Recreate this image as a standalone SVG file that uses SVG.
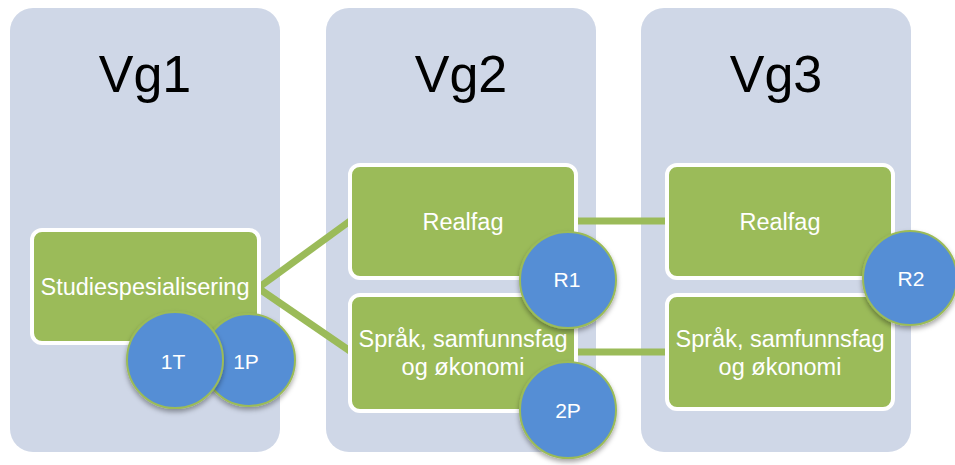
<svg xmlns="http://www.w3.org/2000/svg" width="955" height="465" viewBox="0 0 955 465">
<defs>
<filter id="sh" x="-20%" y="-20%" width="140%" height="150%">
<feDropShadow dx="0" dy="3" stdDeviation="2.5" flood-color="#000" flood-opacity="0.35"/>
</filter>
<style>
.panel{fill:#CFD7E7}
.title{font-family:"Liberation Sans",Arial,sans-serif;font-size:52px;fill:#000;text-anchor:middle}
.box{fill:#9BBB59;stroke:#FFFFFF;stroke-width:4}
.lbl{font-family:"Liberation Sans",Arial,sans-serif;font-size:23.5px;fill:#FFFFFF;text-anchor:middle}
.circ{fill:#558ED5;stroke:#9BBB59;stroke-width:2;filter:url(#sh)}
.clbl{font-family:"Liberation Sans",Arial,sans-serif;font-size:21px;fill:#FFFFFF;text-anchor:middle}
.conn{stroke:#9BBB59;stroke-width:7;fill:none}
</style>
</defs>
<rect width="955" height="465" fill="#FFFFFF"/>
<g id="panel-vg1">
<rect class="panel" x="10" y="8" width="270" height="444" rx="23"/>
<text class="title" x="145" y="92">Vg1</text>
</g>
<g id="panel-vg2">
<rect class="panel" x="326" y="8" width="270" height="444" rx="23"/>
<text class="title" x="461" y="92">Vg2</text>
</g>
<g id="panel-vg3">
<rect class="panel" x="641" y="8" width="270" height="444" rx="23"/>
<text class="title" x="776" y="92">Vg3</text>
</g>
<g id="connectors">
<line class="conn" x1="258" y1="288" x2="350" y2="221"/>
<line class="conn" x1="258" y1="288" x2="350" y2="351"/>
<line class="conn" x1="574" y1="221" x2="669" y2="221"/>
<line class="conn" x1="574" y1="352" x2="669" y2="352"/>
</g>
<g id="node-studiespesialisering">
<rect class="box" x="32" y="230" width="227" height="113" rx="10"/>
<text class="lbl" x="145" y="295">Studiespesialisering</text>
</g>
<g id="node-vg2-realfag">
<rect class="box" x="350" y="165" width="226" height="113" rx="10"/>
<text class="lbl" x="463" y="230">Realfag</text>
</g>
<g id="node-vg2-sprak">
<rect class="box" x="350" y="295" width="226" height="116" rx="10"/>
<text class="lbl" x="463" y="347">Språk, samfunnsfag</text>
<text class="lbl" x="463" y="375">og økonomi</text>
</g>
<g id="node-vg3-realfag">
<rect class="box" x="667" y="165" width="226" height="113" rx="10"/>
<text class="lbl" x="780" y="230">Realfag</text>
</g>
<g id="node-vg3-sprak">
<rect class="box" x="667" y="295" width="226" height="114" rx="10"/>
<text class="lbl" x="780" y="347">Språk, samfunnsfag</text>
<text class="lbl" x="780" y="375">og økonomi</text>
</g>
<g id="node-1P">
<circle class="circ" cx="249" cy="360" r="46"/>
<text class="clbl" x="246" y="369">1P</text>
</g>
<g id="node-1T">
<circle class="circ" cx="175" cy="360" r="48"/>
<text class="clbl" x="173" y="369">1T</text>
</g>
<g id="node-R1">
<circle class="circ" cx="568" cy="280" r="48"/>
<text class="clbl" x="567" y="287">R1</text>
</g>
<g id="node-2P">
<circle class="circ" cx="568" cy="410" r="48"/>
<text class="clbl" x="568" y="418">2P</text>
</g>
<g id="node-R2">
<circle class="circ" cx="910" cy="278" r="47"/>
<text class="clbl" x="911" y="286">R2</text>
</g>
</svg>
